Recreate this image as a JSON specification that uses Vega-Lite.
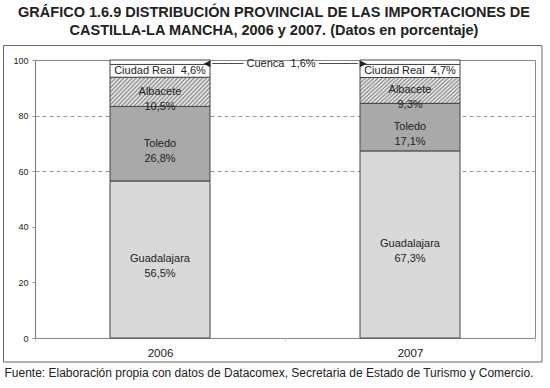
{
  "$schema": "https://vega.github.io/schema/vega-lite/v6.json",
  "width": 500,
  "height": 278,
  "autosize": {"type": "none"},
  "padding": {"left": 35, "top": 60, "right": 15, "bottom": 50},
  "background": "#ffffff",
  "config": {
    "font": "Liberation Sans",
    "view": {"stroke": "#888888", "strokeWidth": 1}
  },
  "title": {
    "text": ["GRÁFICO 1.6.9 DISTRIBUCIÓN PROVINCIAL DE LAS IMPORTACIONES DE", "CASTILLA-LA MANCHA, 2006 y 2007. (Datos en porcentaje)"],
    "fontSize": 14.5,
    "fontWeight": "bold",
    "color": "#222222",
    "lineHeight": 18,
    "anchor": "middle",
    "dx": -11,
    "offset": 7
  },
  "data": {
    "values": [
      {"year": "2006", "provincia": "Guadalajara", "pct": 56.5},
      {"year": "2006", "provincia": "Toledo", "pct": 26.8},
      {"year": "2006", "provincia": "Albacete", "pct": 10.5},
      {"year": "2006", "provincia": "Ciudad Real", "pct": 4.6},
      {"year": "2006", "provincia": "Cuenca", "pct": 1.6},
      {"year": "2007", "provincia": "Guadalajara", "pct": 67.3},
      {"year": "2007", "provincia": "Toledo", "pct": 17.1},
      {"year": "2007", "provincia": "Albacete", "pct": 9.3},
      {"year": "2007", "provincia": "Ciudad Real", "pct": 4.7},
      {"year": "2007", "provincia": "Cuenca", "pct": 1.6}
    ]
  },
  "layer": [
    {
      "transform": [
        {"calculate": "indexof(['Guadalajara','Toledo','Albacete','Ciudad Real','Cuenca'], datum.provincia)", "as": "orden"},
        {"stack": "pct", "groupby": ["year"], "sort": [{"field": "orden", "order": "ascending"}], "as": ["y0", "y1"]},
        {"calculate": "(datum.y0 + datum.y1) / 2", "as": "ymid"},
        {"calculate": "replace(format(datum.pct, '.1f'), '.', ',') + '%'", "as": "pctTxt"}
      ],
      "layer": [
        {
          "mark": {"type": "bar", "size": 100, "stroke": "#444444", "strokeWidth": 1},
          "encoding": {
            "x": {
              "field": "year", "type": "nominal",
              "scale": {"paddingInner": 0, "paddingOuter": 0},
              "axis": {
                "title": "Fuente: Elaboración propia con datos de Datacomex, Secretaria de Estado de Turismo y Comercio.",
                "labelAngle": 0, "labelFontSize": 11.5, "labelColor": "#222222", "labelPadding": 6,
                "domain": false, "ticks": true, "tickBand": "extent", "tickSize": 3, "tickColor": "#cccccc",
                "titleFontSize": 12, "titleFontWeight": "normal", "titleColor": "#222222",
                "titleAlign": "left", "titleAnchor": "start", "titleX": -31, "titleY": 38, "titleBaseline": "alphabetic"
              }
            },
            "y": {
              "field": "y1", "type": "quantitative",
              "scale": {"domain": [0, 100], "nice": false},
              "axis": {
                "title": null, "values": [0, 20, 40, 60, 80, 100],
                "labelFontSize": 9, "labelColor": "#222222", "labelPadding": 4,
                "domainColor": "#777777", "ticks": true, "tickSize": 3, "tickColor": "#999999",
                "grid": true, "gridDash": [4, 3], "gridColor": "#999999",
                "gridOpacity": {"condition": {"test": "datum.value == 60 || datum.value == 80", "value": 1}, "value": 0}
              }
            },
            "y2": {"field": "y0"},
            "fill": {
              "condition": {
                "test": "datum.provincia == 'Albacete'",
                "value": {
                  "gradient": "linear", "x1": 0, "y1": 0, "x2": 1.2, "y2": 0.336,
                  "stops": [
                    {"offset": 0.000, "color": "#f4f4f4"}, {"offset": 0.016, "color": "#8c8c8c"},
                    {"offset": 0.032, "color": "#f4f4f4"}, {"offset": 0.048, "color": "#8c8c8c"},
                    {"offset": 0.064, "color": "#f4f4f4"}, {"offset": 0.080, "color": "#8c8c8c"},
                    {"offset": 0.096, "color": "#f4f4f4"}, {"offset": 0.112, "color": "#8c8c8c"},
                    {"offset": 0.128, "color": "#f4f4f4"}, {"offset": 0.144, "color": "#8c8c8c"},
                    {"offset": 0.160, "color": "#f4f4f4"}, {"offset": 0.176, "color": "#8c8c8c"},
                    {"offset": 0.192, "color": "#f4f4f4"}, {"offset": 0.208, "color": "#8c8c8c"},
                    {"offset": 0.224, "color": "#f4f4f4"}, {"offset": 0.240, "color": "#8c8c8c"},
                    {"offset": 0.256, "color": "#f4f4f4"}, {"offset": 0.272, "color": "#8c8c8c"},
                    {"offset": 0.288, "color": "#f4f4f4"}, {"offset": 0.304, "color": "#8c8c8c"},
                    {"offset": 0.320, "color": "#f4f4f4"}, {"offset": 0.336, "color": "#8c8c8c"},
                    {"offset": 0.352, "color": "#f4f4f4"}, {"offset": 0.368, "color": "#8c8c8c"},
                    {"offset": 0.384, "color": "#f4f4f4"}, {"offset": 0.400, "color": "#8c8c8c"},
                    {"offset": 0.416, "color": "#f4f4f4"}, {"offset": 0.432, "color": "#8c8c8c"},
                    {"offset": 0.448, "color": "#f4f4f4"}, {"offset": 0.464, "color": "#8c8c8c"},
                    {"offset": 0.480, "color": "#f4f4f4"}, {"offset": 0.496, "color": "#8c8c8c"},
                    {"offset": 0.512, "color": "#f4f4f4"}, {"offset": 0.528, "color": "#8c8c8c"},
                    {"offset": 0.544, "color": "#f4f4f4"}, {"offset": 0.560, "color": "#8c8c8c"},
                    {"offset": 0.576, "color": "#f4f4f4"}, {"offset": 0.592, "color": "#8c8c8c"},
                    {"offset": 0.608, "color": "#f4f4f4"}, {"offset": 0.624, "color": "#8c8c8c"},
                    {"offset": 0.640, "color": "#f4f4f4"}, {"offset": 0.656, "color": "#8c8c8c"},
                    {"offset": 0.672, "color": "#f4f4f4"}, {"offset": 0.688, "color": "#8c8c8c"},
                    {"offset": 0.704, "color": "#f4f4f4"}, {"offset": 0.720, "color": "#8c8c8c"},
                    {"offset": 0.736, "color": "#f4f4f4"}, {"offset": 0.752, "color": "#8c8c8c"},
                    {"offset": 0.768, "color": "#f4f4f4"}, {"offset": 0.784, "color": "#8c8c8c"},
                    {"offset": 0.800, "color": "#f4f4f4"}, {"offset": 0.816, "color": "#8c8c8c"},
                    {"offset": 0.832, "color": "#f4f4f4"}, {"offset": 0.848, "color": "#8c8c8c"},
                    {"offset": 0.864, "color": "#f4f4f4"}, {"offset": 0.880, "color": "#8c8c8c"},
                    {"offset": 0.896, "color": "#f4f4f4"}, {"offset": 0.912, "color": "#8c8c8c"},
                    {"offset": 0.928, "color": "#f4f4f4"}, {"offset": 0.944, "color": "#8c8c8c"},
                    {"offset": 0.960, "color": "#f4f4f4"}, {"offset": 0.976, "color": "#8c8c8c"},
                    {"offset": 0.992, "color": "#f4f4f4"}, {"offset": 1.000, "color": "#c0c0c0"}
                  ]
                }
              },
              "field": "provincia", "type": "nominal",
              "scale": {
                "domain": ["Guadalajara", "Toledo", "Albacete", "Ciudad Real", "Cuenca"],
                "range": ["#d9d9d9", "#a9a9a9", "#cfcfcf", "#ffffff", "#ffffff"]
              },
              "legend": null
            }
          }
        },
        {
          "transform": [
            {"filter": "datum.provincia != 'Cuenca'"},
            {"calculate": "datum.provincia == 'Ciudad Real' ? datum.provincia + '\u00a0\u00a0' + datum.pctTxt : [datum.provincia, datum.pctTxt]", "as": "label"}
          ],
          "mark": {"type": "text", "fontSize": 11, "color": "#222222", "lineHeight": 15, "baseline": "middle", "align": "center"},
          "encoding": {
            "x": {"field": "year", "type": "nominal"},
            "y": {"field": "ymid", "type": "quantitative"},
            "text": {"field": "label"}
          }
        },
        {
          "transform": [
            {"filter": "datum.provincia == 'Cuenca' && datum.year == '2006'"},
            {"calculate": "'◄──── ' + datum.provincia + '\u00a0\u00a0' + datum.pctTxt + ' ─────►'", "as": "label"}
          ],
          "mark": {"type": "text", "fontSize": 11, "color": "#222222", "baseline": "middle", "align": "center", "dy": 2},
          "encoding": {
            "x": {"field": "year", "type": "nominal", "bandPosition": 1},
            "y": {"field": "ymid", "type": "quantitative"},
            "text": {"field": "label"}
          }
        }
      ]
    },
    {
      "data": {"values": [{}]},
      "mark": {"type": "rect", "fill": null, "stroke": "#666666", "strokeWidth": 1},
      "encoding": {
        "x": {"datum": -0.063, "type": "quantitative", "scale": {"domain": [0, 1], "nice": false, "zero": false}, "axis": null},
        "x2": {"datum": 1.014},
        "y": {"datum": -8.63, "type": "quantitative"},
        "y2": {"datum": 105.2}
      }
    }
  ],
  "resolve": {"scale": {"x": "independent"}}
}
